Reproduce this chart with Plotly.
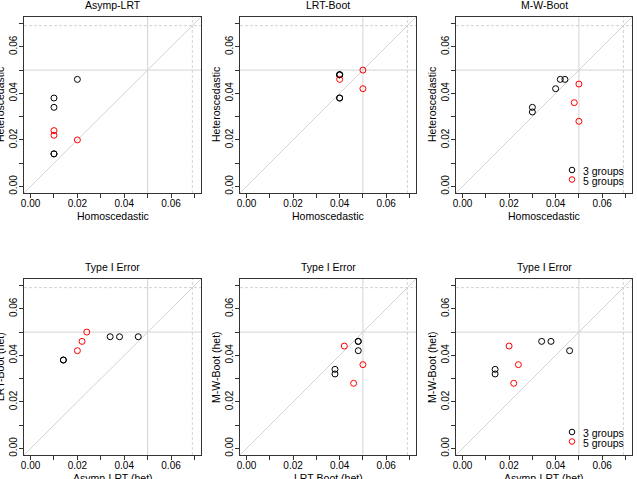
import plotly.graph_objects as go

# ---- data ----
# 3 groups (black), five settings
asymp_hom_3 = [0.010, 0.010, 0.010, 0.010, 0.020]
asymp_het_3 = [0.014, 0.014, 0.034, 0.038, 0.046]
lrt_hom_3 = [0.040, 0.040, 0.040, 0.040, 0.040]
lrt_het_3 = [0.038, 0.038, 0.048, 0.048, 0.048]
mw_hom_3 = [0.030, 0.030, 0.042, 0.044, 0.040]
mw_het_3 = [0.034, 0.032, 0.046, 0.046, 0.042]
# 5 groups (red), three settings
asymp_hom_5 = [0.020, 0.010, 0.010]
asymp_het_5 = [0.020, 0.022, 0.024]
lrt_hom_5 = [0.050, 0.040, 0.050]
lrt_het_5 = [0.042, 0.046, 0.050]
mw_hom_5 = [0.050, 0.050, 0.048]
mw_het_5 = [0.044, 0.028, 0.036]

panel_titles = ["Asymp-LRT", "LRT-Boot", "M-W-Boot", "Type I Error", "Type I Error", "Type I Error"]
x_titles = ["Homoscedastic", "Homoscedastic", "Homoscedastic", "Asymp-LRT (het)", "LRT-Boot (het)", "Asymp-LRT (het)"]
y_titles = ["Heteroscedastic", "Heteroscedastic", "Heteroscedastic", "LRT-Boot (het)", "M-W-Boot (het)", "M-W-Boot (het)"]
tick_vals = [0.00, 0.01, 0.02, 0.03, 0.04, 0.05, 0.06, 0.07]
tick_text = ["0.00", "", "0.02", "", "0.04", "", "0.06", ""]
legend_labels = ["3 groups", "5 groups"]
nominal = 0.05
upper_bound = 0.0691
lims = [0.0, 0.07]

panels = [
    (asymp_hom_3, asymp_het_3, asymp_hom_5, asymp_het_5),
    (lrt_hom_3, lrt_het_3, lrt_hom_5, lrt_het_5),
    (mw_hom_3, mw_het_3, mw_hom_5, mw_het_5),
    (asymp_het_3, lrt_het_3, asymp_het_5, lrt_het_5),
    (lrt_het_3, mw_het_3, lrt_het_5, mw_het_5),
    (asymp_het_3, mw_het_3, asymp_het_5, mw_het_5),
]

W, H = 637, 479
xdom_px = [(24, 201), (240, 416), (456, 632)]
ydom_px = [(17, 193), (279, 455)]
pad = 0.04 * (lims[1] - lims[0])
rng = [lims[0] - pad, lims[1] + pad]

FONT = "Liberation Sans, Arial, sans-serif"
BLACK = "black"
RED = "#ff0000"
GRID = "#d3d3d3"
FRAME = "#333333"
LAB = dict(family=FONT, size=10.5, color="black")

fig = go.Figure()
layout = dict(width=W, height=H, margin=dict(l=0, r=0, t=0, b=0),
              paper_bgcolor="white", plot_bgcolor="white", showlegend=False,
              font=dict(family=FONT, size=10, color="black"),
              template="none")
annotations = []
shapes = []

for i, (x3, y3, x5, y5) in enumerate(panels):
    r, c = divmod(i, 3)
    n = "" if i == 0 else str(i + 1)
    xa, ya = "x" + n, "y" + n
    xl, xr = xdom_px[c]
    yt, yb = ydom_px[r]
    xdom = [xl / W, xr / W]
    ydom = [(H - yb) / H, (H - yt) / H]
    common = dict(range=rng, tickmode="array", tickvals=tick_vals, ticktext=tick_text,
                  ticks="outside", ticklen=4, tickwidth=1, tickcolor=FRAME,
                  showline=True, linecolor=FRAME, linewidth=1, mirror=True,
                  showgrid=False, zeroline=False, automargin=False,
                  tickfont=dict(family=FONT, size=10, color="black"))
    layout["xaxis" + n] = dict(common, domain=xdom, anchor=ya, ticklabelstandoff=-3)
    layout["yaxis" + n] = dict(common, domain=ydom, anchor=xa, tickangle=-90,
                               ticklabelstandoff=-2)
    # reference lines (abline-style, in data coordinates)
    shapes.append(dict(type="line", xref=xa, yref=ya, x0=rng[0], y0=rng[0], x1=rng[1], y1=rng[1],
                       line=dict(color=GRID, width=1), layer="below"))
    shapes.append(dict(type="line", xref=xa, yref=ya, x0=nominal, x1=nominal, y0=rng[0], y1=rng[1],
                       line=dict(color=GRID, width=1), layer="below"))
    shapes.append(dict(type="line", xref=xa, yref=ya, y0=nominal, y1=nominal, x0=rng[0], x1=rng[1],
                       line=dict(color=GRID, width=1), layer="below"))
    shapes.append(dict(type="line", xref=xa, yref=ya, x0=upper_bound, x1=upper_bound, y0=rng[0], y1=rng[1],
                       line=dict(color=GRID, width=1, dash="3px,2px"), layer="below"))
    shapes.append(dict(type="line", xref=xa, yref=ya, y0=upper_bound, y1=upper_bound, x0=rng[0], x1=rng[1],
                       line=dict(color=GRID, width=1, dash="3px,2px"), layer="below"))

    fig.add_trace(go.Scatter(x=x3, y=y3, mode="markers", xaxis=xa, yaxis=ya, name=legend_labels[0],
                             marker=dict(symbol="circle-open", size=6, color=BLACK, line=dict(width=1))))
    fig.add_trace(go.Scatter(x=x5, y=y5, mode="markers", xaxis=xa, yaxis=ya, name=legend_labels[1],
                             marker=dict(symbol="circle-open", size=6, color=RED, line=dict(width=1))))

    # panel title
    annotations.append(dict(text=panel_titles[i], xref="paper", yref="paper",
                            x=(xl + xr) / 2 / W, y=(H - (yt - 12)) / H,
                            xanchor="center", yanchor="middle", showarrow=False, font=LAB))
    # axis titles
    annotations.append(dict(text=x_titles[i], xref="paper", yref="paper",
                            x=(xl + xr) / 2 / W, y=(H - (yb + 23)) / H,
                            xanchor="center", yanchor="middle", showarrow=False, font=LAB))
    annotations.append(dict(text=y_titles[i], xref="paper", yref="paper", textangle=-90,
                            x=(xl - 24) / W, y=(H - (yt + yb) / 2) / H,
                            xanchor="center", yanchor="middle", showarrow=False, font=LAB))

    # legend (bottom-right) in the right-hand panels
    if c == 2:
        for k, (lab, col) in enumerate(zip(legend_labels, [BLACK, RED])):
            cy = yb - 23 + 9.5 * k
            cx = 572
            shapes.append(dict(type="circle", xref="paper", yref="paper",
                               x0=(cx - 2.8) / W, x1=(cx + 2.8) / W,
                               y0=(H - cy - 2.8) / H, y1=(H - cy + 2.8) / H,
                               line=dict(color=col, width=1)))
            annotations.append(dict(text=lab, xref="paper", yref="paper",
                                    x=(cx + 8.5) / W, y=(H - cy - 1) / H,
                                    xanchor="left", yanchor="middle", showarrow=False, font=LAB))

layout["annotations"] = annotations
layout["shapes"] = shapes
fig.update_layout(**layout)
fig.write_html("out.html")
